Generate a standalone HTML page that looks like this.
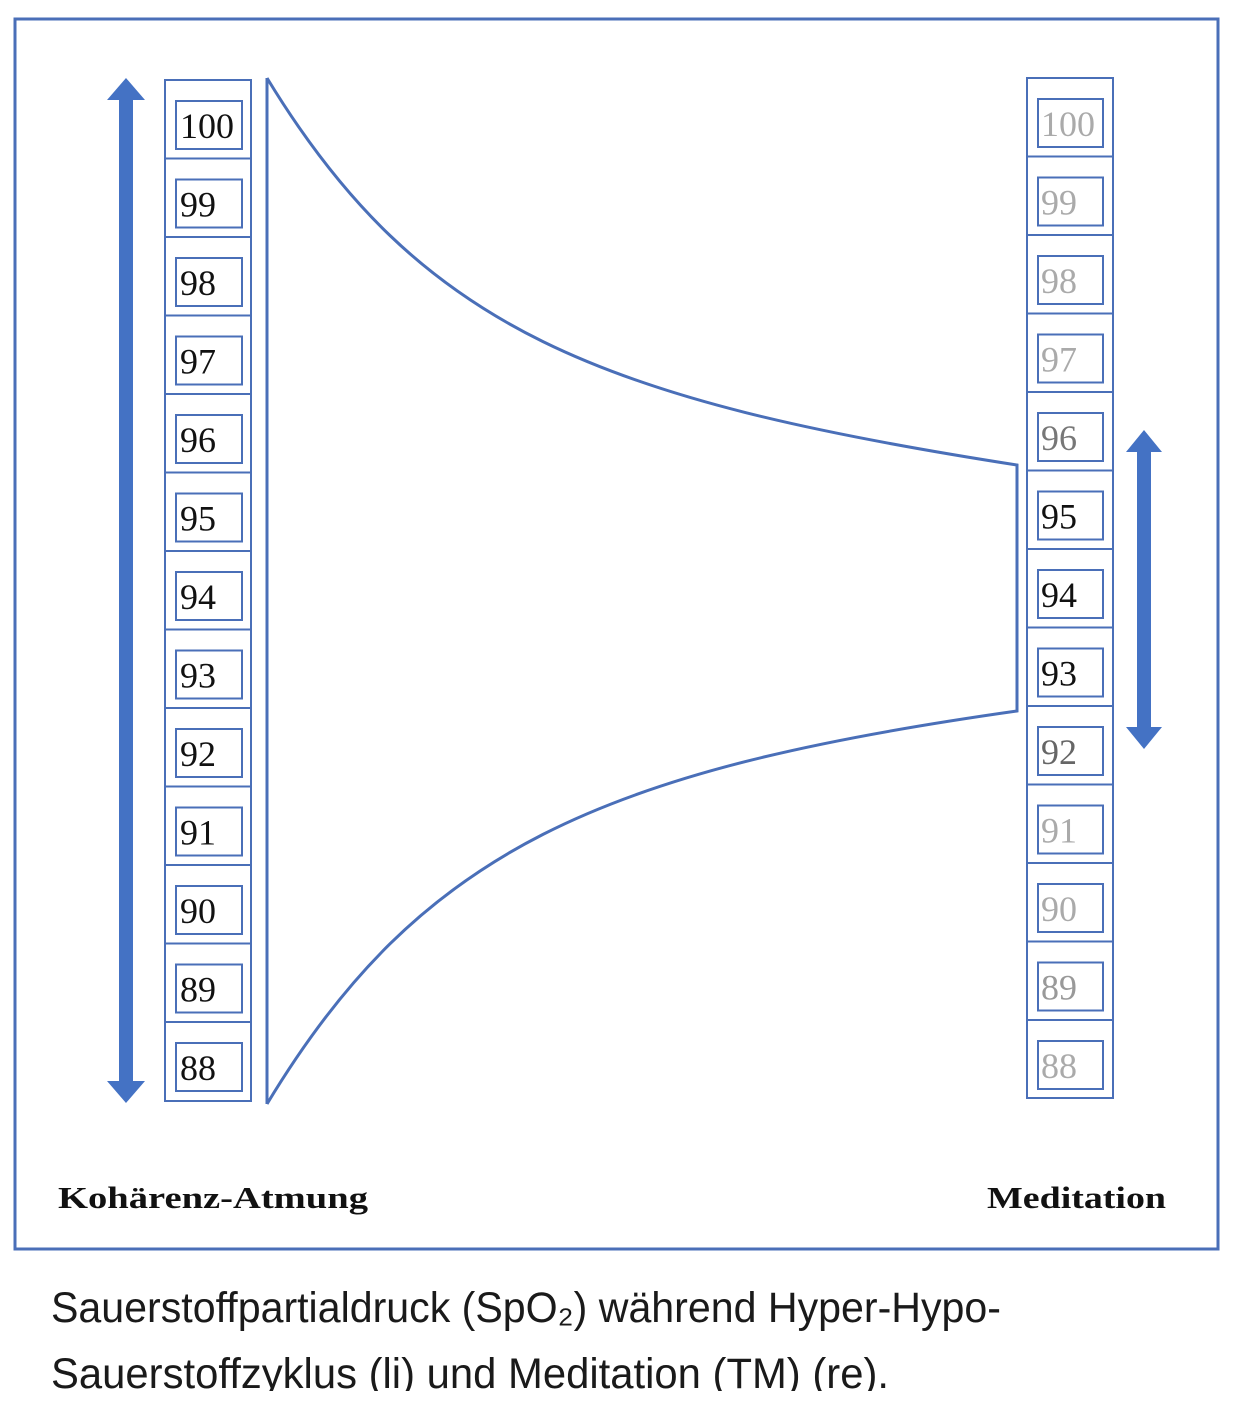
<!DOCTYPE html>
<html><head><meta charset="utf-8"><style>
html,body{margin:0;padding:0;background:#fff;width:1250px;height:1428px;overflow:hidden}
svg{display:block}
</style></head><body>
<svg width="1250" height="1428" viewBox="0 0 1250 1428" xmlns="http://www.w3.org/2000/svg">
<rect x="15" y="19" width="1203" height="1230" fill="none" stroke="#4a6fb8" stroke-width="3"/>
<!-- left arrow -->
<rect x="119" y="98" width="14" height="986" fill="#4472c4"/>
<polygon points="126,78 145,100 107,100" fill="#4472c4"/>
<polygon points="126,1103 145,1081 107,1081" fill="#4472c4"/>
<!-- right arrow -->
<rect x="1137" y="450" width="14" height="280" fill="#4472c4"/>
<polygon points="1144,430 1162,452 1126,452" fill="#4472c4"/>
<polygon points="1144,749 1162,727 1126,727" fill="#4472c4"/>
<!-- funnel -->
<path d="M267,78 L267,1104 M267,78 C420,330 600,400 1017,465 L1017,711 C600,770 420,850 267,1104" fill="none" stroke="#4a6fb8" stroke-width="3"/>
<g font-family="Liberation Serif, serif" font-size="36">
<rect x="165" y="80" width="86" height="1021" fill="none" stroke="#4a6fb8" stroke-width="2"/>
<g id="L"></g>
</g>
<g font-family="Liberation Serif, serif" font-size="36">
<rect x="1027" y="78" width="86" height="1020" fill="none" stroke="#4a6fb8" stroke-width="2"/>
</g>
<g font-family="Liberation Serif, serif" font-size="36" fill="none" stroke="#4a6fb8" stroke-width="2">
<!-- left dividers & inner boxes -->
<path d="M165,158.5H251M165,237H251M165,315.5H251M165,394H251M165,472.5H251M165,551H251M165,629.5H251M165,708H251M165,786.5H251M165,865H251M165,943.5H251M165,1022H251"/>
<path d="M1027,156.5H1113M1027,235H1113M1027,313.5H1113M1027,392H1113M1027,470.5H1113M1027,549H1113M1027,627.5H1113M1027,706H1113M1027,784.5H1113M1027,863H1113M1027,941.5H1113M1027,1020H1113"/>
<rect x="176" y="101" width="66" height="48"/><rect x="176" y="179.5" width="66" height="48"/><rect x="176" y="258" width="66" height="48"/><rect x="176" y="336.5" width="66" height="48"/><rect x="176" y="415" width="66" height="48"/><rect x="176" y="493.5" width="66" height="48"/><rect x="176" y="572" width="66" height="48"/><rect x="176" y="650.5" width="66" height="48"/><rect x="176" y="729" width="66" height="48"/><rect x="176" y="807.5" width="66" height="48"/><rect x="176" y="886" width="66" height="48"/><rect x="176" y="964.5" width="66" height="48"/><rect x="176" y="1043" width="66" height="48"/>
<rect x="1038" y="99" width="65" height="48"/><rect x="1038" y="177.5" width="65" height="48"/><rect x="1038" y="256" width="65" height="48"/><rect x="1038" y="334.5" width="65" height="48"/><rect x="1038" y="413" width="65" height="48"/><rect x="1038" y="491.5" width="65" height="48"/><rect x="1038" y="570" width="65" height="48"/><rect x="1038" y="648.5" width="65" height="48"/><rect x="1038" y="727" width="65" height="48"/><rect x="1038" y="805.5" width="65" height="48"/><rect x="1038" y="884" width="65" height="48"/><rect x="1038" y="962.5" width="65" height="48"/><rect x="1038" y="1041" width="65" height="48"/>
</g>
<g font-family="Liberation Serif, serif" font-size="36" fill="#111">
<text x="180" y="138">100</text><text x="180" y="216.5">99</text><text x="180" y="295">98</text><text x="180" y="373.5">97</text><text x="180" y="452">96</text><text x="180" y="530.5">95</text><text x="180" y="609">94</text><text x="180" y="687.5">93</text><text x="180" y="766">92</text><text x="180" y="844.5">91</text><text x="180" y="923">90</text><text x="180" y="1001.5">89</text><text x="180" y="1080">88</text>
</g>
<g font-family="Liberation Serif, serif" font-size="36">
<text x="1041" y="136" fill="#aaa">100</text><text x="1041" y="214.5" fill="#aaa">99</text><text x="1041" y="293" fill="#aaa">98</text><text x="1041" y="371.5" fill="#aaa">97</text><text x="1041" y="450" fill="#777">96</text><text x="1041" y="528.5" fill="#111">95</text><text x="1041" y="607" fill="#111">94</text><text x="1041" y="685.5" fill="#111">93</text><text x="1041" y="764" fill="#666">92</text><text x="1041" y="842.5" fill="#aaa">91</text><text x="1041" y="921" fill="#aaa">90</text><text x="1041" y="999.5" fill="#999">89</text><text x="1041" y="1078" fill="#aaa">88</text>
</g>
<g font-family="Liberation Serif, serif" font-size="31" font-weight="bold" fill="#111">
<text x="58" y="1208" textLength="310" lengthAdjust="spacingAndGlyphs">Kohärenz-Atmung</text>
<text x="987" y="1208" textLength="179" lengthAdjust="spacingAndGlyphs">Meditation</text>
</g>
<g font-family="Liberation Sans, sans-serif" font-size="43" fill="#1a1a1a">
<text x="51" y="1322" textLength="950" lengthAdjust="spacingAndGlyphs">Sauerstoffpartialdruck (SpO₂) während Hyper-Hypo-</text>
<text x="51" y="1388" textLength="838" lengthAdjust="spacingAndGlyphs">Sauerstoffzyklus (li) und Meditation (TM) (re).</text>
</g>
<rect x="0" y="1391" width="1250" height="40" fill="#fff"/>
</svg>
</body></html>
